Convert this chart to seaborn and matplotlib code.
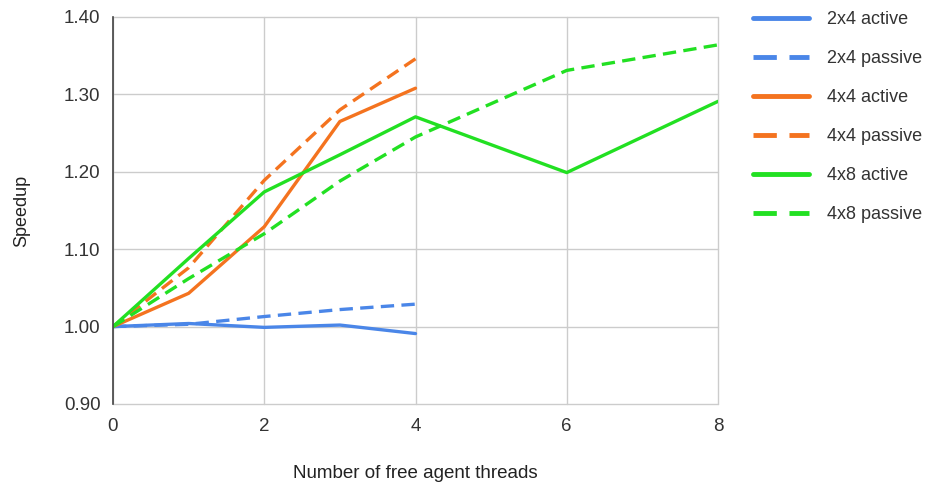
import pandas as pd
import matplotlib.pyplot as plt
import seaborn as sns

# values
threads_short = [0, 1, 2, 3, 4]
threads_long = [0, 1, 2, 3, 4, 6, 8]

active_2x4 = [1.000, 1.004, 0.999, 1.002, 0.991]
passive_2x4 = [1.000, 1.003, 1.013, 1.022, 1.029]
active_4x4 = [1.000, 1.043, 1.129, 1.265, 1.308]
passive_4x4 = [1.000, 1.076, 1.189, 1.280, 1.346]
active_4x8 = [1.000, 1.088, 1.174, 1.222, 1.271, 1.199, 1.291]
passive_4x8 = [1.000, 1.062, 1.120, 1.188, 1.245, 1.331, 1.364]

series = [
    ("2x4 active", threads_short, active_2x4, "#4a86e8", False),
    ("2x4 passive", threads_short, passive_2x4, "#4a86e8", True),
    ("4x4 active", threads_short, active_4x4, "#f4731f", False),
    ("4x4 passive", threads_short, passive_4x4, "#f4731f", True),
    ("4x8 active", threads_long, active_4x8, "#22e022", False),
    ("4x8 passive", threads_long, passive_4x8, "#22e022", True),
]

rows = []
for name, xs, ys, c, d in series:
    for x, y in zip(xs, ys):
        rows.append({"series": name, "threads": x, "speedup": y})
df = pd.DataFrame(rows)

sns.set_style("white")
plt.rcParams['font.family'] = ['Liberation Sans', 'DejaVu Sans']

fig = plt.figure(figsize=(9.39, 4.9), dpi=100)
ax = fig.add_axes([113 / 939, 1 - 404 / 490, (718 - 113) / 939, (404 - 17) / 490])

palette = {name: c for name, xs, ys, c, d in series}
dashes = {name: ((4, 2.2) if d else "") for name, xs, ys, c, d in series}
sns.lineplot(data=df, x="threads", y="speedup", hue="series", style="series",
             palette=palette, dashes=dashes, linewidth=2.4, ax=ax, legend=False)

ax.set_xlim(0, 8)
ax.set_ylim(0.9, 1.4)
ax.set_xticks([0, 2, 4, 6, 8])
ax.set_yticks([0.9, 1.0, 1.1, 1.2, 1.3, 1.4])
ax.set_yticklabels([f"{v:.2f}" for v in [0.9, 1.0, 1.1, 1.2, 1.3, 1.4]])
ax.grid(True, color="#cccccc", linewidth=1)
for gl in ax.get_xgridlines() + ax.get_ygridlines():
    gl.set_clip_on(False)
ax.set_axisbelow(True)
for s in ["top", "right", "bottom"]:
    ax.spines[s].set_visible(False)
ax.spines["left"].set_color("#444444")
ax.spines["left"].set_linewidth(1.2)
ax.tick_params(axis="both", length=0, labelsize=13.5, colors="#333333")
ax.tick_params(axis="x", pad=10)
ax.tick_params(axis="y", pad=9)
ax.set_xlabel("Number of free agent threads", fontsize=13.5, color="#222222", labelpad=22)
ax.set_ylabel("Speedup", fontsize=13, color="#222222", labelpad=24)

handles = [plt.Line2D([], [], color=c, linewidth=3.5, linestyle=(0, (4.8, 2.6)) if d else "-")
           for name, xs, ys, c, d in series]
fig.legend(handles, [s[0] for s in series], loc="upper left",
           bbox_to_anchor=(737 / 939, 1 + 5 / 490), frameon=False,
           fontsize=13, handlelength=3.1, labelspacing=1.22, handletextpad=1.0,
           labelcolor="#333333")

fig.savefig("out.png", dpi=100)
